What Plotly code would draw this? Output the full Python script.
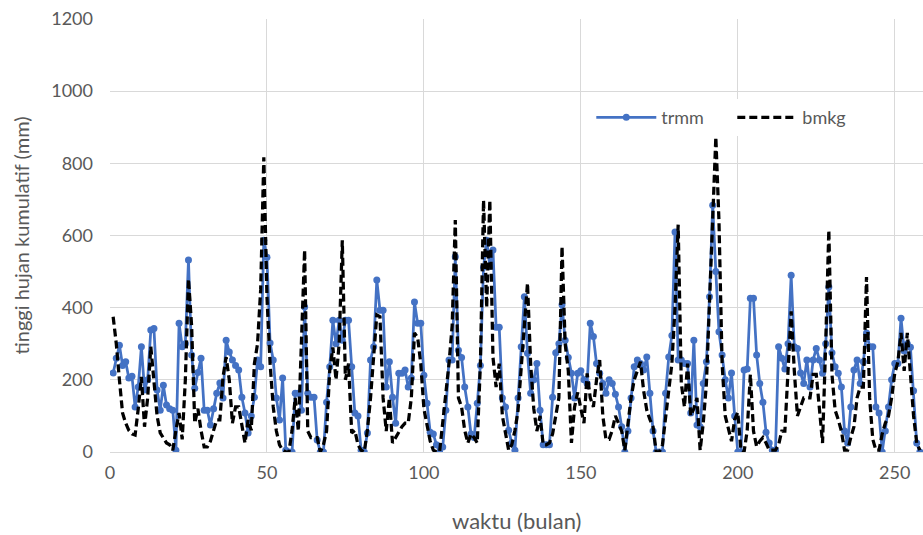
import plotly.graph_objects as go

trmm = [219,260,296,240,250,205,210,125,180,292,172,200,338,342,172,116,185,130,120,116,
        5,357,292,300,532,269,177,220,260,116,116,75,120,163,191,150,310,277,255,240,
        227,152,108,53,100,152,255,236,587,540,302,255,150,89,205,5,0,0,163,163,
        116,402,163,152,152,33,0,0,138,236,365,300,365,310,365,365,236,108,100,5,
        0,53,255,292,477,393,393,180,250,152,80,218,218,227,180,205,416,357,357,213,
        135,55,50,20,0,14,116,255,255,541,282,262,180,125,50,40,135,240,512,587,
        515,560,346,346,150,125,60,25,5,150,292,430,274,163,200,245,116,20,20,20,
        152,275,300,408,310,262,218,150,218,225,200,190,357,320,245,218,190,163,200,190,
        160,125,70,0,58,150,236,255,245,227,263,163,58,0,0,0,163,263,323,610,
        255,255,245,245,108,310,75,70,190,250,430,684,500,333,269,200,150,219,100,0,
        0,227,230,426,426,269,190,138,55,25,5,5,292,260,230,300,490,292,287,219,
        190,255,180,255,287,255,218,300,457,275,236,218,180,58,25,125,227,255,190,250,
        330,292,292,125,108,0,58,125,200,245,245,371,280,300,290,170,25,0]

bmkg = [375,300,200,108,80,60,50,47,120,208,70,150,292,200,100,53,40,25,20,5,
        60,108,35,200,480,350,80,120,60,14,14,30,60,89,89,208,263,200,80,125,
        125,70,25,89,60,245,300,450,817,430,245,125,58,20,5,0,0,60,150,58,
        300,560,58,40,40,40,0,20,58,225,290,200,300,587,200,245,53,60,20,5,
        0,60,150,263,380,375,150,58,150,25,40,58,70,80,80,150,330,318,245,120,
        70,30,5,0,0,80,150,245,350,643,150,125,60,25,50,40,25,245,698,400,
        698,263,180,245,100,58,5,20,60,116,250,350,468,245,120,58,100,20,20,25,
        50,100,150,570,300,225,25,125,165,120,80,218,150,125,200,255,100,35,35,60,
        100,80,58,5,80,150,200,225,250,170,116,90,70,0,0,20,100,170,245,400,
        630,190,125,245,100,120,150,5,80,190,400,650,873,640,245,100,60,30,90,110,
        5,0,60,215,58,15,30,40,25,5,5,5,20,58,58,245,390,225,100,125,
        150,150,150,215,215,120,25,300,615,215,116,90,58,5,5,40,70,150,180,180,
        485,150,35,5,5,50,80,100,150,218,250,330,225,330,225,100,25,5]

months = list(range(1, len(trmm) + 1))
months_b = list(range(1, len(bmkg) + 1))

x_ticks = [0, 50, 100, 150, 200, 250]
y_ticks = [0, 200, 400, 600, 800, 1000, 1200]

FONT = "Lato, 'Open Sans', sans-serif"
GREY = "#595959"
GRID = "#d9d9d9"

fig = go.Figure()
fig.add_trace(go.Scatter(
    x=months, y=trmm, name="trmm", mode="lines+markers",
    line=dict(color="#4472C4", width=2.75),
    marker=dict(color="#4472C4", size=7),
))
fig.add_trace(go.Scatter(
    x=months_b, y=bmkg, name="bmkg", mode="lines",
    line=dict(color="black", width=3.25, dash="8px,4px"),
))

fig.update_layout(
    width=923, height=535,
    margin=dict(l=110, r=0, t=19, b=83),
    paper_bgcolor="white", plot_bgcolor="white",
    font=dict(family=FONT, color=GREY, size=18),
    showlegend=True,
    legend=dict(
        orientation="h", x=0.592, y=0.815, xanchor="left", yanchor="top",
        bgcolor="white", font=dict(size=18, color=GREY),
        itemwidth=60, entrywidth=66,
    ),
    xaxis=dict(
        range=[0, 259], tickvals=x_ticks, automargin=False,
        showgrid=True, gridcolor=GRID, gridwidth=1,
        zeroline=False, showline=False, ticks="", ticklabelstandoff=8,
        tickfont=dict(size=18, color=GREY),
    ),
    yaxis=dict(
        range=[0, 1200], tickvals=y_ticks, automargin=False,
        showgrid=True, gridcolor=GRID, gridwidth=1,
        zeroline=True, zerolinecolor=GRID, zerolinewidth=1,
        showline=False, ticks="", ticklabelstandoff=16,
        tickfont=dict(size=18, color=GREY),
    ),
    annotations=[
        dict(text="waktu (bulan)", xref="paper", yref="paper", x=0.5, y=0,
             xanchor="center", yanchor="middle", yshift=-68, showarrow=False,
             font=dict(size=22, color=GREY)),
        dict(text="tinggi hujan kumulatif (mm)", xref="paper", yref="paper",
             x=-0.1107, y=0.5, xanchor="center", yanchor="middle", textangle=-90,
             showarrow=False, font=dict(size=20, color=GREY)),
    ],
)

fig.write_html("out.html", config={"displayModeBar": False},
               post_script="document.body.style.margin='0';")
